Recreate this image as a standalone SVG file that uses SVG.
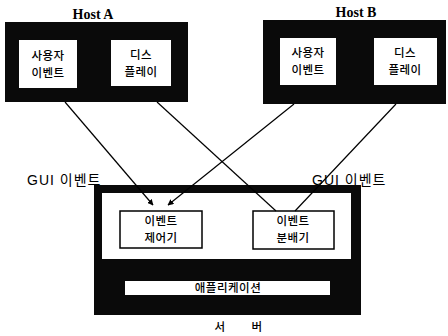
<svg xmlns="http://www.w3.org/2000/svg" width="448" height="336" viewBox="0 0 448 336">
<defs>
<marker id="ah" viewBox="0 0 10 10" refX="9" refY="5" markerWidth="6" markerHeight="6" orient="auto" markerUnits="userSpaceOnUse">
<path d="M0,0 L10,5 L0,10 z" fill="#000"/>
</marker>
<style>
.ko{font-family:"Noto Sans CJK KR","Noto Sans",sans-serif;font-size:11.5px;font-weight:500;letter-spacing:0.5px;fill:#000;text-anchor:middle}
.hl{font-family:"Liberation Serif",serif;font-weight:bold;font-size:14px;fill:#000;text-anchor:middle}
.gui{font-family:"Liberation Sans","Noto Sans CJK KR",sans-serif;font-size:14px;letter-spacing:1px;fill:#000}
.blk{fill:#0a0a0a}
.wbox{fill:#fff}
.sbox{fill:#fff;stroke:#000;stroke-width:1.5}
.ln{stroke:#000;stroke-width:1.2;fill:none}
</style>
</defs>
<rect width="448" height="336" fill="#fff"/>
<g id="hostA">
<text class="hl" x="93" y="19">Host A</text>
<rect class="blk" x="5" y="22" width="183" height="80"/>
<g id="hostA-user">
<rect class="wbox" x="19" y="40" width="58" height="48"/>
<text class="ko" x="48" y="60">사용자</text>
<text class="ko" x="48" y="77">이벤트</text>
</g>
<g id="hostA-display">
<rect class="wbox" x="111" y="40" width="60" height="46"/>
<text class="ko" x="141" y="59">디스</text>
<text class="ko" x="141" y="76">플레이</text>
</g>
</g>
<g id="hostB">
<text class="hl" x="356" y="17">Host B</text>
<rect class="blk" x="263" y="20" width="183" height="84"/>
<g id="hostB-user">
<rect class="wbox" x="280" y="38" width="56" height="47"/>
<text class="ko" x="308" y="57">사용자</text>
<text class="ko" x="308" y="74">이벤트</text>
</g>
<g id="hostB-display">
<rect class="wbox" x="374" y="38" width="63" height="47"/>
<text class="ko" x="405" y="57">디스</text>
<text class="ko" x="405" y="74">플레이</text>
</g>
</g>
<text class="gui" x="27" y="185">GUI 이벤트</text>
<text class="gui" x="312" y="185">GUI 이벤트</text>
<g id="server">
<rect class="blk" x="94" y="185" width="267" height="130"/>
<rect class="wbox" x="102" y="193" width="249" height="66"/>
<g id="event-controller">
<rect class="sbox" x="120" y="211" width="82" height="37"/>
<text class="ko" x="161" y="225">이벤트</text>
<text class="ko" x="161" y="242">제어기</text>
</g>
<g id="event-distributor">
<rect class="sbox" x="253" y="211" width="81" height="38"/>
<text class="ko" x="293" y="225">이벤트</text>
<text class="ko" x="293" y="242">분배기</text>
</g>
<g id="application">
<rect class="wbox" x="125" y="281" width="205" height="14"/>
<text class="ko" x="228" y="292" font-size="11">애플리케이션</text>
</g>
<text class="ko" x="220" y="331" font-size="13">서</text>
<text class="ko" x="257" y="331" font-size="13">버</text>
</g>
<g id="connectors">
<line class="ln" x1="65" y1="102" x2="153" y2="205" marker-end="url(#ah)"/>
<line class="ln" x1="294" y1="104" x2="168" y2="205" marker-end="url(#ah)"/>
<line class="ln" x1="157" y1="102" x2="276" y2="211"/>
<line class="ln" x1="396" y1="104" x2="295" y2="211"/>
</g>
</svg>
